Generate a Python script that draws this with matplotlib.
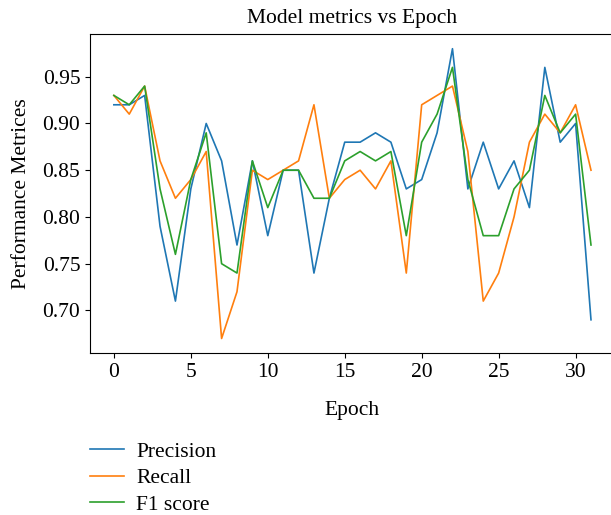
import numpy as np
import matplotlib
matplotlib.use("Agg")
import matplotlib.pyplot as plt

plt.rcParams['font.family'] = ['Liberation Serif', 'DejaVu Serif']
plt.rcParams['font.size'] = 15.5

epochs = list(range(32))

precision = [0.92, 0.92, 0.93, 0.79, 0.71, 0.83, 0.90, 0.86, 0.77, 0.86,
             0.78, 0.85, 0.85, 0.74, 0.82, 0.88, 0.88, 0.89, 0.88, 0.83,
             0.84, 0.89, 0.98, 0.83, 0.88, 0.83, 0.86, 0.81, 0.96, 0.88,
             0.90, 0.69]
recall = [0.93, 0.91, 0.94, 0.86, 0.82, 0.84, 0.87, 0.67, 0.72, 0.85,
          0.84, 0.85, 0.86, 0.92, 0.82, 0.84, 0.85, 0.83, 0.86, 0.74,
          0.92, 0.93, 0.94, 0.87, 0.71, 0.74, 0.80, 0.88, 0.91, 0.89,
          0.92, 0.85]
f1 = [0.93, 0.92, 0.94, 0.83, 0.76, 0.84, 0.89, 0.75, 0.74, 0.86,
      0.81, 0.85, 0.85, 0.82, 0.82, 0.86, 0.87, 0.86, 0.87, 0.78,
      0.88, 0.91, 0.96, 0.84, 0.78, 0.78, 0.83, 0.85, 0.93, 0.89,
      0.91, 0.77]

fig = plt.figure(figsize=(6.11, 5.15), dpi=100)
ax = fig.add_axes([0.1473, 0.3146, 0.859, 0.619])

ax.plot(epochs, precision, label='Precision', linewidth=1.2)
ax.plot(epochs, recall, label='Recall', linewidth=1.2)
ax.plot(epochs, f1, label='F1 score', linewidth=1.2)

ax.set_title('Model metrics vs Epoch', fontsize=15.5, pad=8)
ax.set_xlabel('Epoch', labelpad=14)
ax.set_ylabel('Performance Metrices', labelpad=8)
ax.set_yticks([0.70, 0.75, 0.80, 0.85, 0.90, 0.95])

fig.legend(loc='upper left', bbox_to_anchor=(0.147, 0.142), frameon=False,
           handlelength=1.6, handletextpad=0.55, labelspacing=0.3,
           borderpad=0, borderaxespad=0)

fig.savefig('out.png', dpi=100)
